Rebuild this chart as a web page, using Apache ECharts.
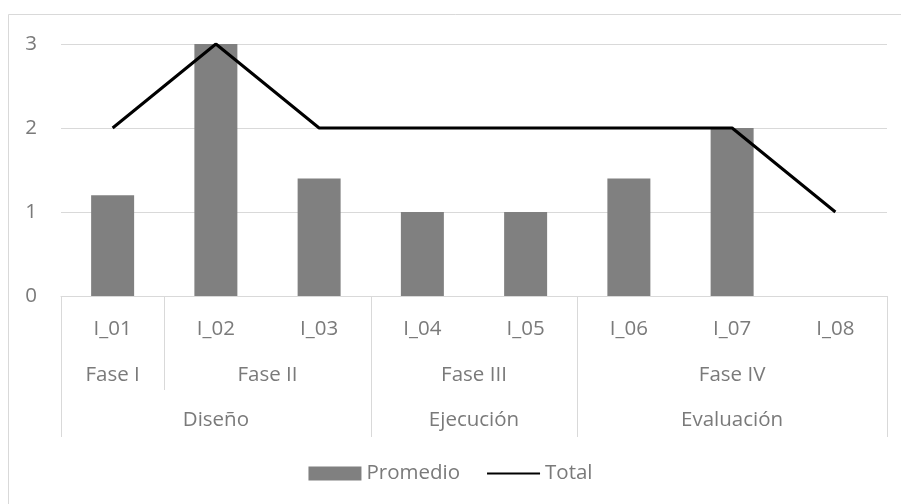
<!DOCTYPE html>
<html>
<head>
<meta charset="utf-8">
<script src="https://cdn.jsdelivr.net/npm/echarts@6/dist/echarts.min.js"></script>
<style>
  html, body { margin: 0; padding: 0; background: #fff; }
  #chart { width: 901px; height: 504px; }
</style>
</head>
<body>
<div id="chart"></div>
<script>
const items = ['I_01', 'I_02', 'I_03', 'I_04', 'I_05', 'I_06', 'I_07', 'I_08']
const promedio = [1.2, 3, 1.4, 1, 1, 1.4, 2, 0]
const total = [2, 3, 2, 2, 2, 2, 2, 1]

const faseLabels = ['Fase I', 'Fase II', 'Fase III', 'Fase IV']
const faseSpans = [1, 2, 2, 3]
const etapaLabels = ['Diseño', 'Ejecución', 'Evaluación']
const etapaSpans = [3, 2, 3]

const yTicks = [0, 1, 2, 3]

// group boundaries and centres on a 0..n scale that lines up with the category bands
const groups = (spans) => {
  const edges = [0]
  const centres = []
  spans.forEach(s => {
    const start = edges[edges.length - 1]
    centres.push(start + s / 2)
    edges.push(start + s)
  })
  return { edges, centres }
}

const fase = groups(faseSpans)
const etapa = groups(etapaSpans)

const gray = '#d9d9d9'
const textGray = '#7a7a7a'
const font = 'Open Sans'
const fontSize = 20.5

const chart = echarts.init(document.getElementById('chart'))

const levelAxis = (g, labels, tickValues, tickLen, margin) => ({
  type: 'value',
  min: 0,
  max: items.length,
  position: 'bottom',
  axisLine: { show: false },
  splitLine: { show: false },
  axisTick: {
    show: true,
    customValues: tickValues,
    length: tickLen,
    lineStyle: { color: gray, width: 1 }
  },
  axisLabel: {
    show: true,
    customValues: g.centres,
    margin: margin,
    color: textGray,
    fontFamily: font,
    fontSize: fontSize,
    lineHeight: 20,
    formatter: (v) => {
      const i = g.centres.indexOf(v)
      return i >= 0 ? labels[i] : ''
    }
  }
})

const option = {
  animation: false,
  backgroundColor: '#fff',
  graphic: [{
    type: 'polyline',
    shape: { points: [[8.5, 520], [8.5, 14.5], [905, 14.5]] },
    style: { stroke: gray, lineWidth: 1, fill: null },
    silent: true
  }],
  grid: { left: 61, right: 14, top: 44, bottom: 208, containLabel: false },
  legend: {
    bottom: 15,
    left: 'center',
    itemWidth: 53,
    itemHeight: 14,
    itemGap: 26,
    textStyle: { color: textGray, fontFamily: font, fontSize: fontSize },
    data: [
      { name: 'Promedio', icon: 'rect' },
      { name: 'Total', itemStyle: { opacity: 0 } }
    ]
  },
  xAxis: [
    {
      type: 'category',
      data: items,
      position: 'bottom',
      axisLine: { show: true, lineStyle: { color: gray, width: 1 } },
      axisTick: { show: false },
      axisLabel: {
        color: textGray,
        fontFamily: font,
        fontSize: fontSize,
        lineHeight: 20,
        margin: 23
      }
    },
    levelAxis(fase, faseLabels, fase.edges.slice(1, -1), 94, 69),
    levelAxis(etapa, etapaLabels, etapa.edges, 141, 114)
  ],
  yAxis: {
    type: 'value',
    min: yTicks[0],
    max: yTicks[yTicks.length - 1],
    interval: 1,
    axisLine: { show: false },
    axisTick: { show: false },
    splitLine: { lineStyle: { color: gray, width: 1 } },
    axisLabel: {
      color: textGray,
      fontFamily: font,
      fontSize: fontSize,
      margin: 24
    }
  },
  series: [
    {
      name: 'Promedio',
      type: 'bar',
      data: promedio,
      barWidth: 43,
      itemStyle: { color: '#808080' }
    },
    {
      name: 'Total',
      type: 'line',
      data: total,
      symbol: 'none',
      lineStyle: { color: '#000', width: 3 },
      itemStyle: { color: '#000' }
    }
  ]
}

chart.setOption(option)
</script>
</body>
</html>
